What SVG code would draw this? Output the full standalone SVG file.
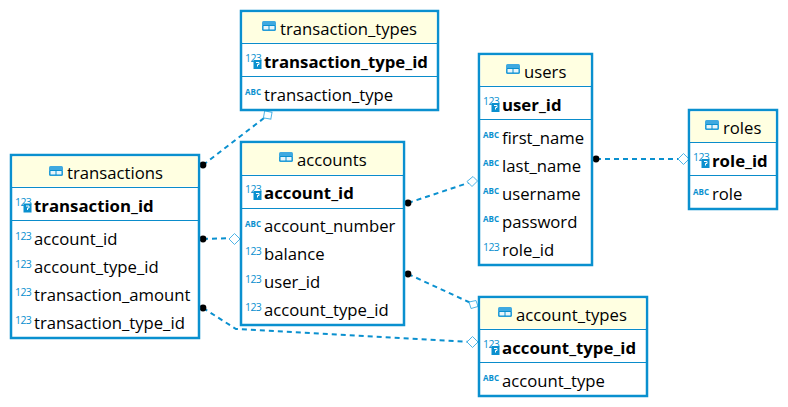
<svg xmlns="http://www.w3.org/2000/svg" width="788" height="407" viewBox="0 0 788 407">
<style>
text{font-family:"Open Sans","Noto Sans","Liberation Sans",sans-serif;fill:#000}
.box{fill:#fff;stroke:#0a90cf;stroke-width:2.5}
.head{fill:#ffffe1}
.sep{stroke:#0a8ccb;stroke-width:1;fill:none}
.t{font-size:16.7px}
.pk{font-size:16.8px;font-weight:700}
.i{font-size:10.500px;fill:#0a90cf;letter-spacing:-.6px}
.a{font-size:8px;font-weight:700;fill:#0a90cf}
.c{fill:none;stroke:#0a90cf;stroke-width:2;stroke-dasharray:5 4}
.d{fill:#000}
.o{fill:#fff;stroke:#4db4e6;stroke-width:1}
</style>
<defs>
<g id="tbl"><rect x="0" y="0" width="14" height="10" rx="1.500" fill="#3fa9e0"/><path d="M1 4.500H13M7 4.500V9M1 5V9H13V5" fill="#e8f5fb" stroke="#0a90cf" stroke-width="1"/></g>
<g id="key"><rect x="0" y="0" width="8" height="9" fill="#0a90cf"/><path d="M2.500 2.500h3v2h-1.500v2" fill="none" stroke="#fff" stroke-width="1"/></g>
</defs>
<g id="connectors">
<path class="c" d="M203 165L268 115"/>
<path class="c" d="M203 239L234 238"/>
<path class="c" d="M203 308L236 329L472 342"/>
<path class="c" d="M408 203L474 181"/>
<path class="c" d="M408 274L473 304"/>
<path class="c" d="M596 159L682 159"/>
<circle class="d" cx="203" cy="165" r="3.400"/>
<circle class="d" cx="203" cy="239" r="3.400"/>
<circle class="d" cx="203" cy="308" r="3.400"/>
<circle class="d" cx="408" cy="203" r="3.400"/>
<circle class="d" cx="408" cy="274" r="3.400"/>
<circle class="d" cx="596" cy="159" r="3.400"/>
<rect class="o" x="264" y="111.500" width="7.500" height="7" transform="rotate(10 267.500 115)"/>
<path class="o" d="M229 239L234.500 233.500L240 239L234.500 244.500Z"/>
<path class="o" d="M467 342L472.500 336.500L478 342L472.500 347.500Z"/>
<path class="o" d="M467 181.500L473 176.500L477.500 181L472 186.500Z"/>
<path class="o" d="M469 302L476 300.500L478 306.500L471 308.500Z"/>
<path class="o" d="M678 159L683.500 153.500L689 159L683.500 164.500Z"/>
</g>
<g id="transactions">
<rect class="box" x="11" y="155" width="188" height="183"/>
<rect class="head" x="12.500" y="156.500" width="185" height="30"/>
<path class="sep" d="M12 187.500H198M12 220.500H198"/>
<use href="#tbl" x="49" y="166"/>
<text class="t" x="67" y="179">transactions</text>
<text class="i" x="15" y="206">123</text><use href="#key" x="23.500" y="203.500"/>
<text class="pk" x="34" y="212">transaction_id</text>
<text class="i" x="15" y="240">123</text><text class="t" x="34" y="245">account_id</text>
<text class="i" x="15" y="268">123</text><text class="t" x="34" y="273">account_type_id</text>
<text class="i" x="15" y="296">123</text><text class="t" x="34" y="301">transaction_amount</text>
<text class="i" x="15" y="324">123</text><text class="t" x="34" y="329">transaction_type_id</text>
</g>
<g id="transaction_types">
<rect class="box" x="241" y="11" width="197" height="99"/>
<rect class="head" x="242.500" y="12.500" width="194" height="30"/>
<path class="sep" d="M242 43.500H437M242 76.500H437"/>
<use href="#tbl" x="262" y="21"/>
<text class="t" x="280" y="35">transaction_types</text>
<text class="i" x="245" y="62">123</text><use href="#key" x="253.500" y="60"/>
<text class="pk" x="264" y="68">transaction_type_id</text>
<text class="a" x="245" y="95">ABC</text><text class="t" x="264" y="101">transaction_type</text>
</g>
<g id="accounts">
<rect class="box" x="241" y="142" width="163" height="183"/>
<rect class="head" x="242.500" y="143.500" width="160" height="31"/>
<path class="sep" d="M242 175.500H403M242 208.500H403"/>
<use href="#tbl" x="279" y="152"/>
<text class="t" x="297" y="166">accounts</text>
<text class="i" x="245" y="193">123</text><use href="#key" x="253.500" y="191"/>
<text class="pk" x="264" y="199">account_id</text>
<text class="a" x="245" y="227">ABC</text><text class="t" x="264" y="232">account_number</text>
<text class="i" x="245" y="255">123</text><text class="t" x="264" y="260">balance</text>
<text class="i" x="245" y="283">123</text><text class="t" x="264" y="288">user_id</text>
<text class="i" x="245" y="311">123</text><text class="t" x="264" y="316">account_type_id</text>
</g>
<g id="users">
<rect class="box" x="479" y="54" width="113" height="211"/>
<rect class="head" x="480.500" y="55.500" width="110" height="30"/>
<path class="sep" d="M480 86.500H591M480 119.500H591"/>
<use href="#tbl" x="506" y="64"/>
<text class="t" x="524" y="78">users</text>
<text class="i" x="483" y="105">123</text><use href="#key" x="491.500" y="103"/>
<text class="pk" x="502" y="111">user_id</text>
<text class="a" x="483" y="138">ABC</text><text class="t" x="502" y="144">first_name</text>
<text class="a" x="483" y="166">ABC</text><text class="t" x="502" y="172">last_name</text>
<text class="a" x="483" y="194">ABC</text><text class="t" x="502" y="200">username</text>
<text class="a" x="483" y="222">ABC</text><text class="t" x="502" y="228">password</text>
<text class="i" x="483" y="251">123</text><text class="t" x="502" y="256">role_id</text>
</g>
<g id="roles">
<rect class="box" x="689" y="110" width="88" height="99"/>
<rect class="head" x="690.500" y="111.500" width="85" height="31"/>
<path class="sep" d="M690 142.500H776M690 175.500H776"/>
<use href="#tbl" x="705" y="120"/>
<text class="t" x="723" y="134">roles</text>
<text class="i" x="693" y="161">123</text><use href="#key" x="701.500" y="159"/>
<text class="pk" x="712" y="167">role_id</text>
<text class="a" x="693" y="195">ABC</text><text class="t" x="712" y="200">role</text>
</g>
<g id="account_types">
<rect class="box" x="479" y="297" width="168" height="99"/>
<rect class="head" x="480.500" y="298.500" width="165" height="30"/>
<path class="sep" d="M480 329.500H646M480 362.500H646"/>
<use href="#tbl" x="498" y="307"/>
<text class="t" x="516" y="321">account_types</text>
<text class="i" x="483" y="348">123</text><use href="#key" x="491.500" y="346"/>
<text class="pk" x="502" y="354">account_type_id</text>
<text class="a" x="483" y="381">ABC</text><text class="t" x="502" y="387">account_type</text>
</g>
</svg>
